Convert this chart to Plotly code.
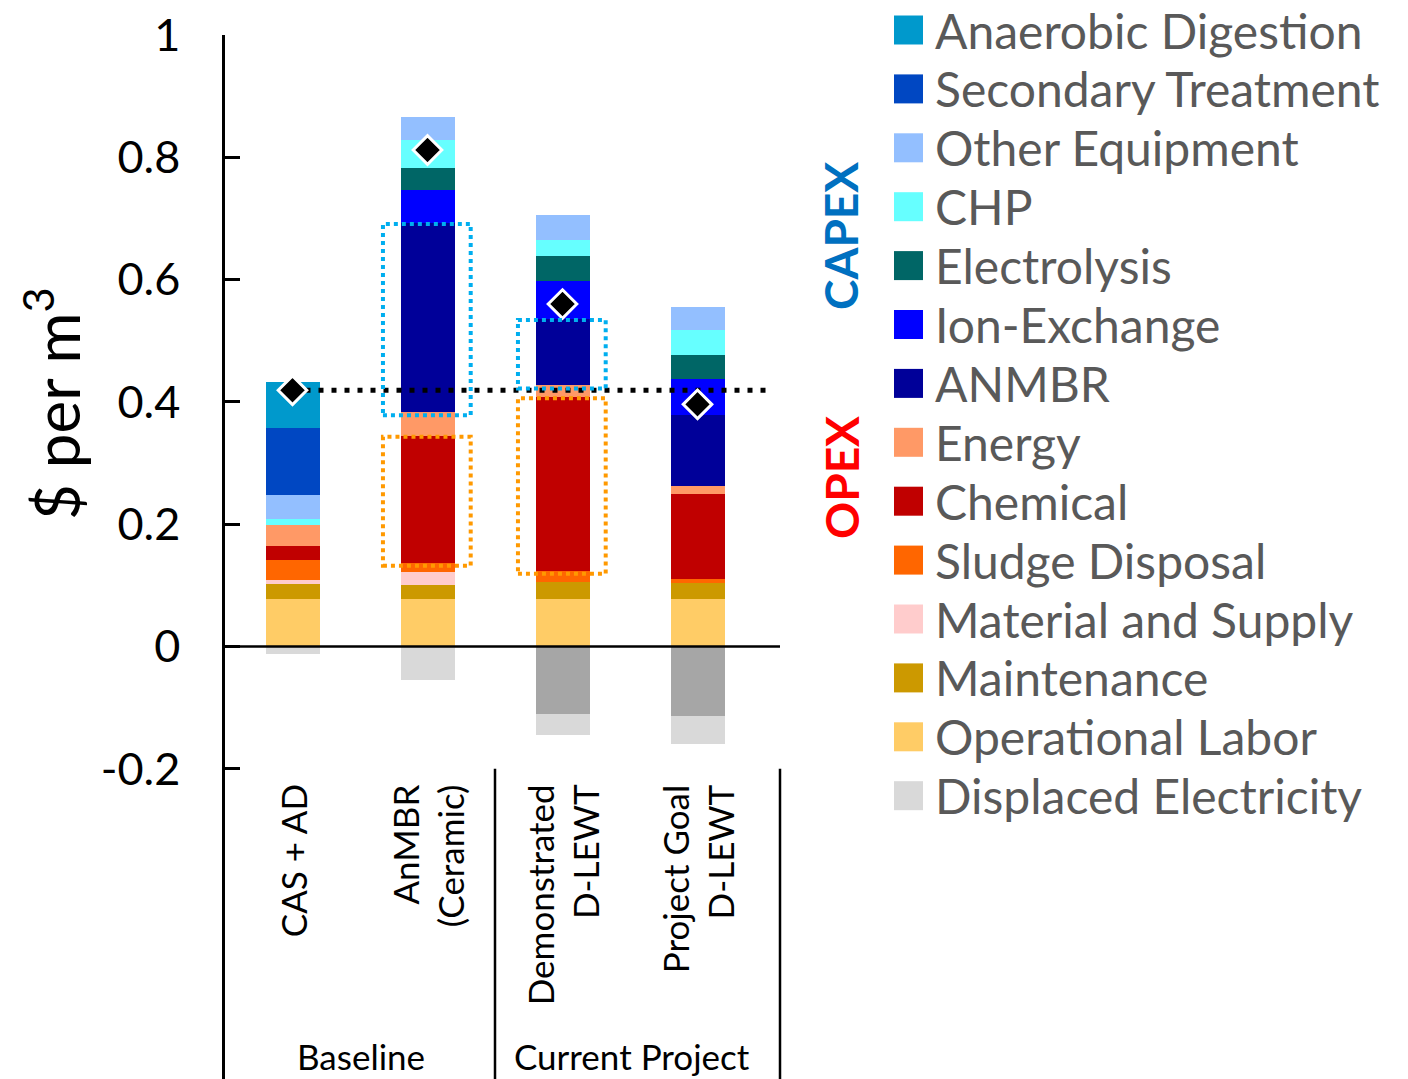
import plotly.graph_objects as go

# ---- data: levelized cost, $ per m3 -------------------------------------
categories = ["CAS + AD", "AnMBR<br>(Ceramic)", "Demonstrated<br>D-LEWT", "Project Goal<br>D-LEWT"]
groups = ["Baseline", "Current Project"]

# OPEX components (stacked from the bottom up)
operational_labor = [0.078, 0.078, 0.078, 0.077]
maintenance = [0.025, 0.022, 0.027, 0.027]
material_supply = [0.005, 0.022, 0.0, 0.0]
sludge_disposal = [0.034, 0.015, 0.019, 0.007]
chemical = [0.022, 0.208, 0.284, 0.138]
energy = [0.034, 0.038, 0.019, 0.014]
# CAPEX components
anmbr = [0.0, 0.310, 0.109, 0.116]
ion_exchange = [0.0, 0.053, 0.062, 0.059]
electrolysis = [0.0, 0.037, 0.040, 0.038]
chp = [0.011, 0.046, 0.026, 0.041]
other_equipment = [0.038, 0.037, 0.041, 0.039]
secondary_treatment = [0.111, 0.0, 0.0, 0.0]
anaerobic_digestion = [0.074, 0.0, 0.0, 0.0]
# credits
product_credit = [0.0, 0.0, -0.111, -0.113]
displaced_electricity = [-0.013, -0.054, -0.034, -0.047]

y_ticks = [-0.2, 0, 0.2, 0.4, 0.6, 0.8, 1]
y_tick_text = ["-0.2", "0", "0.2", "0.4", "0.6", "0.8", "1"]

# (name, values, colour) in stacking order
series = [
    ("Operational Labor", operational_labor, "#FFCC66"),
    ("Maintenance", maintenance, "#CC9900"),
    ("Material and Supply", material_supply, "#FFCCCC"),
    ("Sludge Disposal", sludge_disposal, "#FF6600"),
    ("Chemical", chemical, "#C00000"),
    ("Energy", energy, "#FF9966"),
    ("ANMBR", anmbr, "#000099"),
    ("Ion-Exchange", ion_exchange, "#0000FF"),
    ("Electrolysis", electrolysis, "#006666"),
    ("CHP", chp, "#66FFFF"),
    ("Other Equipment", other_equipment, "#93BFFF"),
    ("Secondary Treatment", secondary_treatment, "#0047C2"),
    ("Anaerobic Digestion", anaerobic_digestion, "#0099CC"),
]
credits = [
    ("Product Credit", product_credit, "#A6A6A6", False),
    ("Displaced Electricity", displaced_electricity, "#D9D9D9", True),
]

# ---- geometry -------------------------------------------------------------
W, H = 1408, 1079
L, R, T, B = 225, 618, 35, 0
PW, PH = W - L - R, H - T - B
PX_PER_CAT = 135
x_range = [-0.5, -0.5 + PW / PX_PER_CAT]
y_top = 1.0
y_range = [y_top - PH / 611.5, y_top]

FONT = "Lato"


def paper_x(px):
    return (px - L) / PW


def paper_y(py):
    return 1 - (py - T) / PH


def data_x(px):
    return x_range[0] + (px - L) / PX_PER_CAT


xs = list(range(len(categories)))
fig = go.Figure()

for name, vals, col in series:
    fig.add_trace(go.Bar(x=xs, y=vals, name=name, marker=dict(color=col, line=dict(width=0)),
                         width=0.4, showlegend=False))
for name, vals, col, _ in credits:
    fig.add_trace(go.Bar(x=xs, y=vals, name=name, marker=dict(color=col, line=dict(width=0)),
                         width=0.4, showlegend=False))

# net cost = all components plus credits
net = [sum(s[1][i] for s in series) + sum(c[1][i] for c in credits) for i in xs]

# reference level of the baseline net cost
fig.add_trace(go.Scatter(x=[0, data_x(770)], y=[net[0], net[0]], mode="lines",
                         line=dict(color="black", width=5, dash="5px,8px"),
                         showlegend=False, hoverinfo="skip"))


# dotted boxes around ANMBR (CAPEX) and Chemical (OPEX) segments
def segment_bounds(idx, name):
    base = 0.0
    for n, vals, _ in series:
        if n == name:
            return base, base + vals[idx]
        base += vals[idx]


for idx in (1, 2):
    for name, col in (("ANMBR", "#00AEEF"), ("Chemical", "#FF9900")):
        lo, hi = segment_bounds(idx, name)
        fig.add_shape(type="rect", xref="x", yref="y", x0=idx - 0.33, x1=idx + 0.32,
                      y0=lo - 0.005, y1=hi - 0.002,
                      line=dict(color=col, width=4, dash="4px,4px"), layer="above")

fig.add_trace(go.Scatter(x=xs, y=net, mode="markers",
                         marker=dict(symbol="diamond", size=22, color="black",
                                     line=dict(color="white", width=3)),
                         showlegend=False, cliponaxis=False))

# zero line and group separators
fig.add_shape(type="line", xref="x", yref="y", x0=x_range[0], x1=data_x(780), y0=0, y1=0,
              line=dict(color="black", width=2.5), layer="above")
for px in (495, 780):
    fig.add_shape(type="line", xref="x", yref="y", x0=data_x(px), x1=data_x(px),
                  y0=-0.2, y1=y_range[0] - 0.01, line=dict(color="black", width=2.5))

annotations = []
# category labels (rotated)
for i, cat in enumerate(categories):
    annotations.append(dict(x=i, y=-0.222, xref="x", yref="y", text=cat, textangle=-90,
                            xanchor="center", yanchor="top", align="right", showarrow=False,
                            font=dict(family=FONT, size=35, color="black")))
# group labels
for txt, px in zip(groups, (361, 632)):
    annotations.append(dict(x=data_x(px), y=paper_y(1056), xref="x", yref="paper", text=txt,
                            xanchor="center", yanchor="middle", showarrow=False,
                            font=dict(family=FONT, size=35, color="black")))
# axis title
annotations.append(dict(x=paper_x(52), y=paper_y(404), xref="paper", yref="paper",
                        text="$ per m<sup>3</sup>", textangle=-90, xanchor="center",
                        yanchor="middle", showarrow=False,
                        font=dict(family=FONT, size=62, color="black")))
# CAPEX / OPEX tags
annotations.append(dict(x=paper_x(841), y=paper_y(236), xref="paper", yref="paper", text="<b>CAPEX</b>",
                        textangle=-90, showarrow=False, xanchor="center", yanchor="middle",
                        font=dict(family=FONT, size=46, color="#0070C0")))
annotations.append(dict(x=paper_x(841), y=paper_y(478), xref="paper", yref="paper", text="<b>OPEX</b>",
                        textangle=-90, showarrow=False, xanchor="center", yanchor="middle",
                        font=dict(family=FONT, size=46, color="#FF0000")))

# legend (top -> bottom is reverse stacking order, credits last)
legend_items = [(n, c) for n, _, c in reversed(series)] + [(n, c) for n, _, c, show in credits if show]
row0, pitch = 30, 58.9
for k, (name, col) in enumerate(legend_items):
    cy = row0 + k * pitch
    fig.add_shape(type="rect", xref="paper", yref="paper",
                  x0=paper_x(894), x1=paper_x(923), y0=paper_y(cy + 14.5), y1=paper_y(cy - 14.5),
                  fillcolor=col, line=dict(width=0))
    annotations.append(dict(x=paper_x(933), y=paper_y(cy), xref="paper", yref="paper", text=name,
                            xanchor="left", yanchor="middle", showarrow=False,
                            font=dict(family=FONT, size=48, color="#595959")))

fig.update_layout(
    width=W, height=H,
    margin=dict(l=L, r=R, t=T, b=B, pad=0),
    paper_bgcolor="white", plot_bgcolor="white",
    barmode="relative", bargap=0,
    annotations=annotations,
    xaxis=dict(range=x_range, visible=False, fixedrange=True),
    yaxis=dict(range=y_range, tickvals=y_ticks, ticktext=y_tick_text,
               showline=True, linecolor="black", linewidth=2.5,
               ticks="inside", ticklen=15, tickwidth=2.5, tickcolor="black",
               showgrid=False, zeroline=False, ticklabelstandoff=33,
               tickfont=dict(family=FONT, size=45, color="black")),
    showlegend=False,
)

fig.write_html("out.html")
